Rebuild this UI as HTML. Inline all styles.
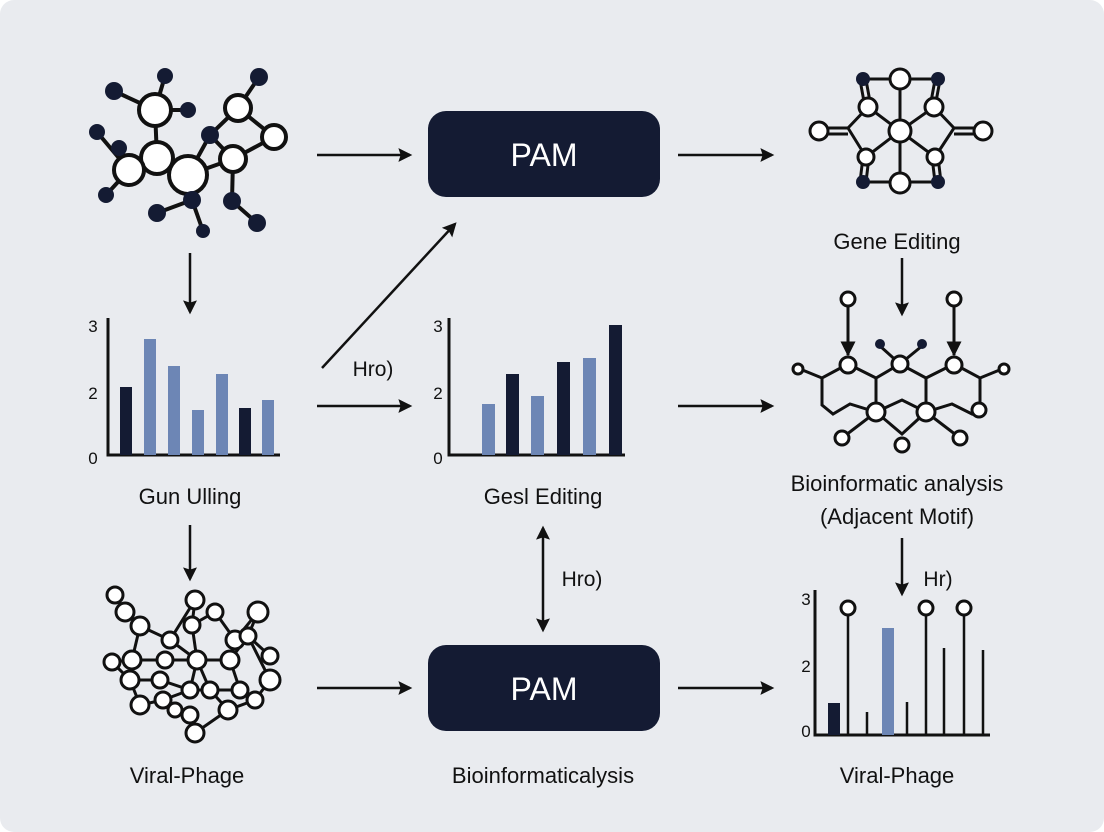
<!DOCTYPE html>
<html><head><meta charset="utf-8"><style>
html,body{margin:0;padding:0;background:#fff;}
svg{display:block;font-family:"Liberation Sans",sans-serif;}
</style></head><body>
<svg width="1104" height="832" viewBox="0 0 1104 832" xmlns="http://www.w3.org/2000/svg">
<defs>
<marker id="ah" viewBox="0 0 12 12" refX="10" refY="6" markerUnits="userSpaceOnUse" markerWidth="14" markerHeight="14" orient="auto-start-reverse"><path d="M0,0 L12,6 L0,12 L2,6z" fill="#111"/></marker>
<marker id="af" viewBox="0 0 10 10" refX="9" refY="5" markerWidth="5" markerHeight="5" orient="auto"><path d="M0,0 L10,5 L0,10z" fill="#111"/></marker>
</defs>
<rect x="0" y="0" width="1104" height="832" rx="14" fill="#e9ebef"/>
<g stroke="#111" stroke-width="2.5" fill="none" marker-end="url(#ah)">
<line x1="317" y1="155" x2="410" y2="155"/>
<line x1="678" y1="155" x2="772" y2="155"/>
<line x1="190" y1="253" x2="190" y2="312"/>
<line x1="322" y1="368" x2="455" y2="224"/>
<line x1="317" y1="406" x2="410" y2="406"/>
<line x1="678" y1="406" x2="772" y2="406"/>
<line x1="902" y1="258" x2="902" y2="314"/>
<line x1="190" y1="525" x2="190" y2="579"/>
<line x1="543" y1="528" x2="543" y2="630" marker-start="url(#ah)"/>
<line x1="902" y1="538" x2="902" y2="594"/>
<line x1="317" y1="688" x2="410" y2="688"/>
<line x1="678" y1="688" x2="772" y2="688"/>
</g>
<rect x="428" y="111" width="232" height="86" rx="18" fill="#141b33"/>
<rect x="428" y="645" width="232" height="86" rx="18" fill="#141b33"/>
<g fill="#fff" font-size="32" text-anchor="middle"><text x="544" y="166">PAM</text><text x="544" y="700">PAM</text></g>
<g fill="#111" font-size="22" text-anchor="middle">
<text x="897" y="249">Gene Editing</text>
<text x="190" y="504">Gun Ulling</text>
<text x="543" y="504">Gesl Editing</text>
<text x="897" y="491">Bioinformatic analysis</text>
<text x="897" y="524">(Adjacent Motif)</text>
<text x="187" y="783">Viral-Phage</text>
<text x="543" y="783">Bioinformaticalysis</text>
<text x="897" y="783">Viral-Phage</text>
<text x="373" y="376" font-size="21">Hro)</text>
<text x="582" y="586" font-size="21">Hro)</text>
<text x="938" y="586" font-size="21">Hr)</text>
</g>
<!-- top-left network -->
<g stroke="#111" stroke-width="4">
<line x1="114" y1="91" x2="155" y2="110"/><line x1="165" y1="76" x2="155" y2="110"/><line x1="188" y1="110" x2="155" y2="110"/>
<line x1="155" y1="110" x2="157" y2="158"/><line x1="97" y1="132" x2="129" y2="170"/><line x1="106" y1="195" x2="129" y2="170"/>
<line x1="129" y1="170" x2="157" y2="158"/><line x1="157" y1="158" x2="188" y2="175"/><line x1="188" y1="175" x2="210" y2="135"/>
<line x1="188" y1="175" x2="233" y2="159"/><line x1="210" y1="135" x2="238" y2="108"/><line x1="238" y1="108" x2="259" y2="77"/>
<line x1="238" y1="108" x2="274" y2="137"/><line x1="274" y1="137" x2="233" y2="159"/><line x1="210" y1="135" x2="233" y2="159"/>
<line x1="188" y1="175" x2="192" y2="200"/><line x1="192" y1="200" x2="203" y2="231"/><line x1="192" y1="200" x2="157" y2="213"/>
<line x1="233" y1="159" x2="232" y2="201"/><line x1="232" y1="201" x2="257" y2="223"/>
</g>
<g fill="#fff" stroke="#111" stroke-width="4">
<circle cx="155" cy="110" r="16"/><circle cx="157" cy="158" r="16"/><circle cx="129" cy="170" r="15"/><circle cx="188" cy="175" r="19"/>
<circle cx="238" cy="108" r="13"/><circle cx="274" cy="137" r="12"/><circle cx="233" cy="159" r="13"/>
</g>
<g fill="#141b33">
<circle cx="165" cy="76" r="8"/><circle cx="114" cy="91" r="9"/><circle cx="188" cy="110" r="8"/><circle cx="97" cy="132" r="8"/>
<circle cx="119" cy="148" r="8"/><circle cx="106" cy="195" r="8"/><circle cx="157" cy="213" r="9"/><circle cx="192" cy="200" r="9"/>
<circle cx="203" cy="231" r="7"/><circle cx="210" cy="135" r="9"/><circle cx="259" cy="77" r="9"/><circle cx="232" cy="201" r="9"/><circle cx="257" cy="223" r="9"/>
</g>
<!-- top-right network -->
<g stroke="#111" stroke-width="3" fill="none">
<line x1="863" y1="79" x2="938" y2="79"/><line x1="863" y1="182" x2="938" y2="182"/>
<line x1="900" y1="79" x2="900" y2="183"/>
<path d="M860,80 L865,107 M866,80 L871,107 M940,80 L935,107 M935,80 L930,107"/>
<path d="M868,107 L900,131 L934,107 M866,157 L900,131 L935,157"/>
<path d="M868,107 L848,128 L819,128 M848,128 L866,157 M819,134 L848,134"/>
<path d="M934,107 L954,128 L983,128 M954,128 L935,157 M954,134 L983,134"/>
<path d="M863,157 L860,182 M869,157 L866,182 M938,157 L941,182 M932,157 L935,182"/>
</g>
<g fill="#fff" stroke="#111" stroke-width="3">
<circle cx="900" cy="79" r="10"/><circle cx="868" cy="107" r="9"/><circle cx="934" cy="107" r="9"/>
<circle cx="819" cy="131" r="9"/><circle cx="983" cy="131" r="9"/><circle cx="900" cy="131" r="11"/>
<circle cx="866" cy="157" r="8"/><circle cx="935" cy="157" r="8"/><circle cx="900" cy="183" r="10"/>
</g>
<g fill="#141b33"><circle cx="863" cy="79" r="7"/><circle cx="938" cy="79" r="7"/><circle cx="863" cy="182" r="7"/><circle cx="938" cy="182" r="7"/></g>
<!-- chart labels -->
<g font-size="17" fill="#111" text-anchor="middle"><text x="93" y="332">3</text><text x="93" y="399">2</text><text x="93" y="464">0</text>
<text x="438" y="332">3</text><text x="438" y="399">2</text><text x="438" y="464">0</text>
<text x="806" y="605">3</text><text x="806" y="672">2</text><text x="806" y="737">0</text></g>
<path d="M108,318 V455 H280" stroke="#111" stroke-width="3" fill="none"/>
<rect x="120" y="387" width="12" height="68" fill="#141b33"/><rect x="144" y="339" width="12" height="116" fill="#6d86b5"/>
<rect x="168" y="366" width="12" height="89" fill="#6d86b5"/><rect x="192" y="410" width="12" height="45" fill="#6d86b5"/>
<rect x="216" y="374" width="12" height="81" fill="#6d86b5"/><rect x="239" y="408" width="12" height="47" fill="#141b33"/>
<rect x="262" y="400" width="12" height="55" fill="#6d86b5"/>
<path d="M449,318 V455 H625" stroke="#111" stroke-width="3" fill="none"/>
<rect x="482" y="404" width="13" height="51" fill="#6d86b5"/><rect x="506" y="374" width="13" height="81" fill="#141b33"/>
<rect x="531" y="396" width="13" height="59" fill="#6d86b5"/><rect x="557" y="362" width="13" height="93" fill="#141b33"/>
<rect x="583" y="358" width="13" height="97" fill="#6d86b5"/><rect x="609" y="325" width="13" height="130" fill="#141b33"/>
<!-- middle-right network -->
<g stroke="#111" stroke-width="3" fill="none">
<line x1="848" y1="305" x2="848" y2="355" marker-end="url(#af)"/><line x1="954" y1="305" x2="954" y2="355" marker-end="url(#af)"/>
<path d="M800,369 L822,378 L848,364 L876,378 L900,364 L926,378 L954,364 L980,378 L1002,369"/>
<path d="M822,378 V405 L833,414 L850,404 L876,412 L902,400 L926,412 L952,404 L972,414 L980,405 V378"/>
<line x1="876" y1="378" x2="876" y2="412"/><line x1="926" y1="378" x2="926" y2="412"/>
<line x1="880" y1="346" x2="900" y2="364"/><line x1="922" y1="346" x2="900" y2="364"/>
<path d="M842,438 L876,412 L902,434 L926,412 L960,438"/>
</g>
<g fill="#fff" stroke="#111" stroke-width="3">
<circle cx="848" cy="299" r="7"/><circle cx="954" cy="299" r="7"/><circle cx="798" cy="369" r="5"/><circle cx="1004" cy="369" r="5"/>
<circle cx="848" cy="365" r="8"/><circle cx="900" cy="364" r="8"/><circle cx="954" cy="365" r="8"/>
<circle cx="876" cy="412" r="9"/><circle cx="926" cy="412" r="9"/><circle cx="979" cy="410" r="7"/>
<circle cx="842" cy="438" r="7"/><circle cx="902" cy="445" r="7"/><circle cx="960" cy="438" r="7"/>
</g>
<g fill="#141b33"><circle cx="880" cy="344" r="5"/><circle cx="922" cy="344" r="5"/></g>
<!-- chart 3 -->
<path d="M815,590 V735 H990" stroke="#111" stroke-width="3" fill="none"/>
<rect x="828" y="703" width="12" height="32" fill="#141b33"/><rect x="882" y="628" width="12" height="107" fill="#6d86b5"/>
<g stroke="#111" stroke-width="2.5"><line x1="867" y1="712" x2="867" y2="735"/><line x1="907" y1="702" x2="907" y2="735"/>
<line x1="848" y1="615" x2="848" y2="735"/><line x1="926" y1="615" x2="926" y2="735"/><line x1="964" y1="615" x2="964" y2="735"/>
<line x1="944" y1="648" x2="944" y2="735"/><line x1="983" y1="650" x2="983" y2="735"/></g>
<g fill="#fff" stroke="#111" stroke-width="3"><circle cx="848" cy="608" r="7"/><circle cx="926" cy="608" r="7"/><circle cx="964" cy="608" r="7"/></g>
<!-- bottom-left network -->
<g stroke="#111" stroke-width="3" fill="none">
<path d="M115,595 L125,612 L140,626 L132,660 L112,662 L130,680 L140,705 L163,700 L175,710 L190,715 L195,733"/>
<path d="M140,626 L170,640 L195,600 L192,625 L215,612 L235,640 L258,612 L248,636 L270,680 L255,700 L228,710 L195,733"/>
<path d="M170,640 L197,660 L230,660 L248,636 L270,656"/>
<path d="M140,660 L165,660 L197,660 L190,690 L160,680 L130,680"/>
<path d="M192,625 L197,660 L210,690 L228,710"/><path d="M235,640 L230,660 L240,690 L255,700"/>
<path d="M163,700 L190,690 L210,690 L240,690"/>
</g>
<g fill="#fff" stroke="#111" stroke-width="3">
<circle cx="115" cy="595" r="8"/><circle cx="125" cy="612" r="9"/><circle cx="140" cy="626" r="9"/><circle cx="132" cy="660" r="9"/>
<circle cx="112" cy="662" r="8"/><circle cx="130" cy="680" r="9"/><circle cx="140" cy="705" r="9"/><circle cx="163" cy="700" r="8"/>
<circle cx="175" cy="710" r="7"/><circle cx="190" cy="715" r="8"/><circle cx="195" cy="733" r="9"/><circle cx="170" cy="640" r="8"/>
<circle cx="195" cy="600" r="9"/><circle cx="192" cy="625" r="8"/><circle cx="215" cy="612" r="8"/><circle cx="235" cy="640" r="9"/>
<circle cx="258" cy="612" r="10"/><circle cx="248" cy="636" r="8"/><circle cx="270" cy="680" r="10"/><circle cx="270" cy="656" r="8"/>
<circle cx="255" cy="700" r="8"/><circle cx="228" cy="710" r="9"/><circle cx="197" cy="660" r="9"/><circle cx="230" cy="660" r="9"/>
<circle cx="165" cy="660" r="8"/><circle cx="190" cy="690" r="8"/><circle cx="160" cy="680" r="8"/><circle cx="210" cy="690" r="8"/><circle cx="240" cy="690" r="8"/>
</g>
</svg>
</body></html>
